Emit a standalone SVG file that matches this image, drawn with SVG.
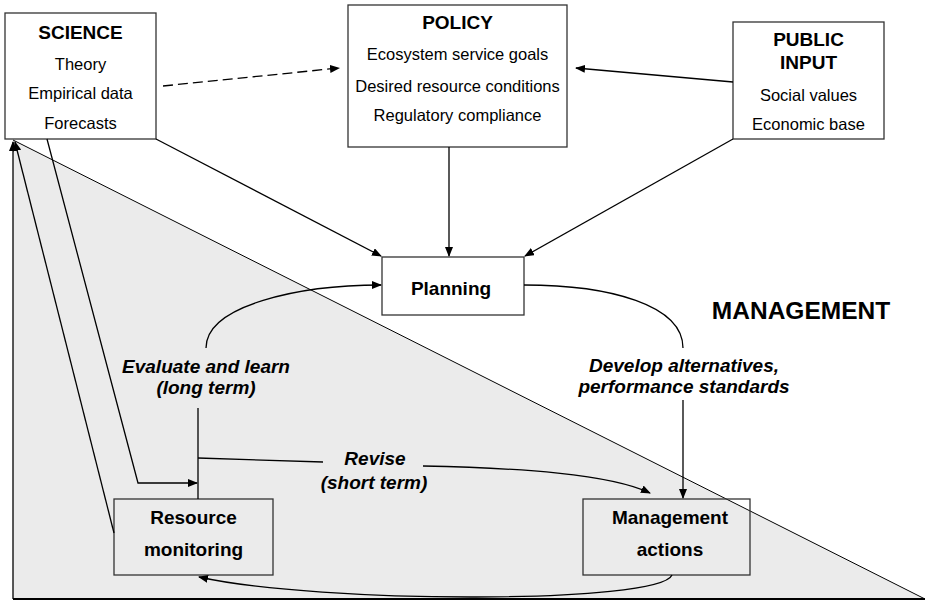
<svg xmlns="http://www.w3.org/2000/svg" width="927" height="601" viewBox="0 0 927 601">
  <defs>
    <marker id="arrow" markerUnits="userSpaceOnUse" markerWidth="10" markerHeight="8" refX="9" refY="4" orient="auto">
      <path d="M0,0 L10,4 L0,8 z" fill="#000"/>
    </marker>
    <style>
      text { font-family: "Liberation Sans", Arial, Helvetica, sans-serif; fill: #000; text-anchor: middle; }
      .head { font-size: 19px; font-weight: bold; }
      .item { font-size: 16.5px; }
      .lbl { font-size: 19px; font-weight: bold; font-style: italic; }
      .box { fill: #fff; stroke: #333; stroke-width: 1.3; }
      .obox { fill: none; stroke: #333; stroke-width: 1.3; }
      .conn { fill: none; stroke: #000; stroke-width: 1.3; }
    </style>
  </defs>

  <rect width="927" height="601" fill="#fff"/>

  <g id="management-zone">
    <polygon points="13,140 13,599 925,599" fill="#ebebeb"/>
    <path d="M13,140 L925,599" fill="none" stroke="#000" stroke-width="1"/>
    <path d="M13,599 L925,599" fill="none" stroke="#000" stroke-width="2"/>
    <text x="801" y="319" class="head" style="font-size:24.5px">MANAGEMENT</text>
  </g>

  <g id="science">
    <rect x="5" y="13" width="151" height="126" class="box"/>
    <text x="80.5" y="39" class="head">SCIENCE</text>
    <text x="80.5" y="70" class="item">Theory</text>
    <text x="80.5" y="99" class="item">Empirical data</text>
    <text x="80.5" y="129" class="item">Forecasts</text>
  </g>

  <g id="policy">
    <rect x="348" y="5" width="219" height="142" class="box"/>
    <text x="457.5" y="29" class="head">POLICY</text>
    <text x="457.5" y="60" class="item">Ecosystem service goals</text>
    <text x="457.5" y="92" class="item">Desired resource conditions</text>
    <text x="457.5" y="121" class="item">Regulatory compliance</text>
  </g>

  <g id="public-input">
    <rect x="733" y="22" width="151" height="117" class="box"/>
    <text x="808.5" y="46" class="head">PUBLIC</text>
    <text x="808.5" y="69" class="head">INPUT</text>
    <text x="808.5" y="101" class="item">Social values</text>
    <text x="808.5" y="130" class="item">Economic base</text>
  </g>

  <g id="planning">
    <rect x="382" y="257" width="142" height="58" class="box"/>
    <text x="451" y="295" class="head">Planning</text>
  </g>

  <g id="resource-monitoring">
    <rect x="114" y="499" width="159" height="76" class="obox"/>
    <text x="193.5" y="524" class="head">Resource</text>
    <text x="193.5" y="556" class="head">monitoring</text>
  </g>

  <g id="management-actions">
    <rect x="583" y="499" width="167" height="76" class="obox"/>
    <text x="670" y="524" class="head">Management</text>
    <text x="670" y="556" class="head">actions</text>
  </g>

  <g id="labels">
    <text x="206" y="373" class="lbl">Evaluate and learn</text>
    <text x="206" y="394" class="lbl">(long term)</text>
    <text x="684" y="372" class="lbl">Develop alternatives,</text>
    <text x="684" y="393" class="lbl">performance standards</text>
    <text x="375" y="465" class="lbl">Revise</text>
    <text x="374" y="489" class="lbl">(short term)</text>
  </g>

  <g id="connectors">
    <path d="M163,86 L339,68" class="conn" stroke-dasharray="10,5" marker-end="url(#arrow)"/>
    <path d="M733,82 L576,68" class="conn" marker-end="url(#arrow)"/>
    <path d="M156,139 L381,256" class="conn" marker-end="url(#arrow)"/>
    <path d="M449,147 L449,256" class="conn" marker-end="url(#arrow)"/>
    <path d="M733,139 L525,256" class="conn" marker-end="url(#arrow)"/>
    <path d="M206,348 C206,305 300,285 381,285" class="conn" marker-end="url(#arrow)"/>
    <path d="M524,285 C610,285 683,305 683,348" class="conn"/>
    <path d="M683,400 L683,498" class="conn" marker-end="url(#arrow)"/>
    <path d="M198,408 L198,499" class="conn"/>
    <path d="M198,458 L323,462" class="conn"/>
    <path d="M423,466 C520,468 610,474 650,493" class="conn" marker-end="url(#arrow)"/>
    <path d="M47,139 L138,483 L197,483" class="conn" marker-end="url(#arrow)"/>
    <path d="M672,575 C660,604 320,604 199,577" class="conn" marker-end="url(#arrow)"/>
    <path d="M114,533 L15,142" class="conn" marker-end="url(#arrow)"/>
    <path d="M13,599 L13,142" class="conn" marker-end="url(#arrow)"/>
  </g>
</svg>
